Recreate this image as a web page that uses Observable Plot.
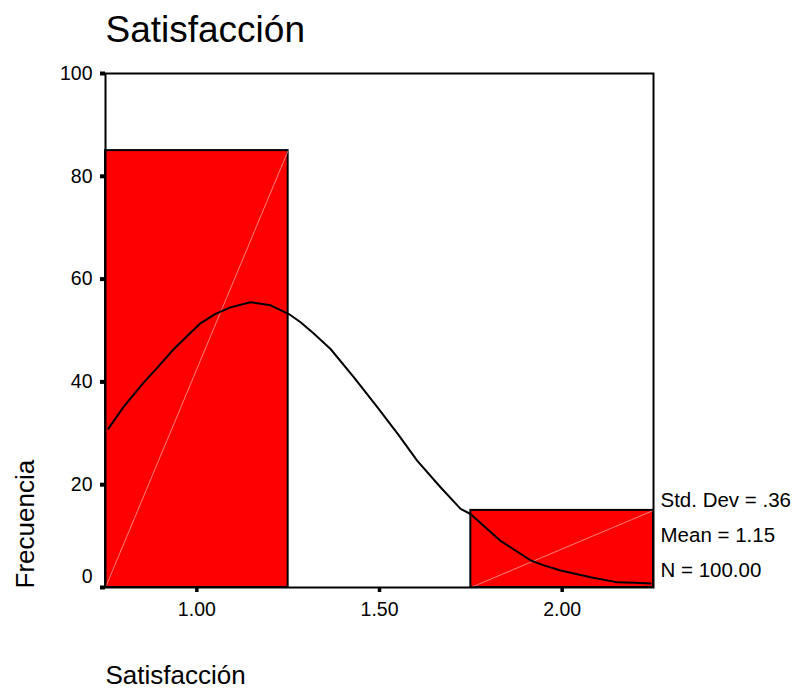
<!DOCTYPE html>
<html>
<head>
<meta charset="utf-8">
<script src="https://cdn.jsdelivr.net/npm/d3@7"></script>
<script src="https://cdn.jsdelivr.net/npm/@observablehq/plot@0.6"></script>
<style>
  html, body { margin: 0; padding: 0; background: #fff; }
</style>
</head>
<body>
<div id="chart"></div>
<script>
// Histogram bins
const binLower = [0.75, 1.25, 1.75];
const binUpper = [1.25, 1.75, 2.25];
const binCount = [85, 0, 15];

// Normal curve
const curveX = [0.758, 0.800, 0.855, 0.900, 0.937, 1.010, 1.050, 1.092, 1.147, 1.202, 1.252, 1.284, 1.320, 1.366, 1.430, 1.494, 1.553, 1.603, 1.667, 1.722, 1.749, 1.831, 1.913, 1.950, 1.996, 2.078, 2.151, 2.200, 2.242];
const curveY = [30.9, 35.2, 39.9, 43.4, 46.4, 51.4, 53.2, 54.5, 55.5, 54.9, 53.2, 51.6, 49.4, 46.4, 40.9, 35.1, 29.6, 24.7, 19.5, 15.3, 14.3, 9.1, 5.3, 4.3, 3.3, 2.0, 1.0, 0.9, 0.8];

// Ticks
const xTicks = [1.0, 1.5, 2.0];
const yTicks = [20, 40, 60, 80, 100];
const yZeroTick = [0];

// Texts
const titleText = "Satisfacción";
const xLabel = "Satisfacción";
const yLabel = "Frecuencia";
const statStdDev = ".36";
const statMean = "1.15";
const statN = "100.00";

const bins = binLower.map((d, i) => ({x1: d, x2: binUpper[i], count: binCount[i]}));
const curve = curveX.map((d, i) => ({x: d, y: curveY[i]}));
const statsLines = [`Std. Dev = ${statStdDev}`, `Mean = ${statMean}`, `N = ${statN}`].join("\n");

const font = "'Liberation Sans', Arial, Helvetica, sans-serif";

const chart = Plot.plot({
  width: 798,
  height: 688,
  marginLeft: 105,
  marginRight: 145,
  marginTop: 73,
  marginBottom: 101,
  style: { fontFamily: font, background: "#fff", color: "#000", overflow: "visible" },
  x: { domain: [0.75, 2.25] },
  y: { domain: [0, 100] },
  marks: [
    Plot.rectY(bins.filter(d => d.count > 0), {x1: "x1", x2: "x2", y1: 0, y2: "count", fill: "#ff0000", stroke: "#000", strokeWidth: 2, inset: 0}),
    Plot.link(bins.filter(d => d.count > 0), {x1: "x1", y1: () => 0, x2: "x2", y2: "count", stroke: "#ffb3b3", strokeWidth: 0.7}),
    Plot.line(curve, {x: "x", y: "y", stroke: "#000", strokeWidth: 2}),
    Plot.frame({stroke: "#000", strokeWidth: 2}),
    Plot.axisY({ticks: yTicks, tickSize: 5, strokeWidth: 4, tickPadding: 8, fontSize: 19.5, tickFormat: d => d, label: null}),
    Plot.axisY({ticks: yZeroTick, tickSize: 5, strokeWidth: 4, tickPadding: 8, fontSize: 19.5, tickFormat: () => "", label: null}),
    Plot.axisY({ticks: yZeroTick, tickSize: 0, tickPadding: 13, dy: -11, fontSize: 19.5, tickFormat: d => d, label: null}),
    Plot.axisX({ticks: xTicks, tickSize: 5, strokeWidth: 3.5, tickPadding: 10, fontSize: 19.5, tickFormat: d3.format(".2f"), label: null}),
    Plot.text([titleText], {frameAnchor: "top-left", text: d => d, textAnchor: "start", lineAnchor: "bottom", dy: -32, fontSize: 37}),
    Plot.text([xLabel], {frameAnchor: "bottom-left", text: d => d, textAnchor: "start", lineAnchor: "bottom", dy: 96, fontSize: 26}),
    Plot.text([yLabel], {frameAnchor: "bottom-left", text: d => d, textAnchor: "start", lineAnchor: "bottom", rotate: -90, dx: -72, dy: 1, fontSize: 26}),
    Plot.text([statsLines], {frameAnchor: "bottom-right", text: d => d, textAnchor: "start", lineAnchor: "bottom", lineHeight: 35 / 20.5, dx: 7, dy: -10.3, fontSize: 20.5})
  ]
});

document.getElementById("chart").appendChild(chart);
</script>
</body>
</html>
